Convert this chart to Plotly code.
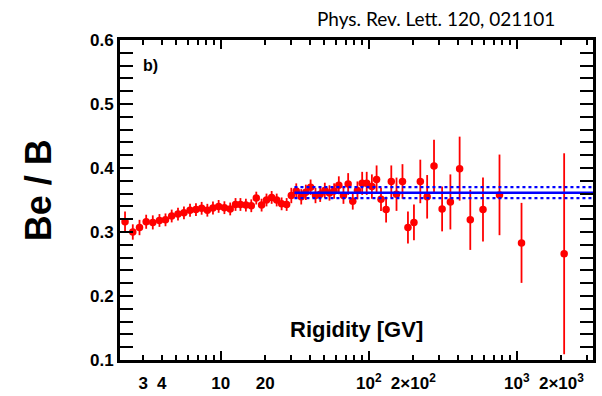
import numpy as np
import plotly.graph_objects as go

rigidity = [2.26, 2.55, 2.83, 3.14, 3.48, 3.86, 4.24, 4.67, 5.15, 5.65,
            6.21, 6.81, 7.44, 8.13, 8.87, 9.69, 10.6, 11.6, 12.6, 13.6,
            14.8, 16.1, 17.4, 18.9, 20.4, 22.1, 23.9, 25.8, 27.9, 30.0,
            32.4, 35.0, 37.6, 40.5, 43.7, 47.0, 50.5, 54.3, 58.4, 62.8,
            67.5, 72.6, 78.0, 83.9, 90.3, 96.9, 105, 113, 121, 131,
            142, 154, 169, 184, 202, 223, 248, 276, 313, 356,
            411, 485, 591, 764, 1076, 2088]
ratio = [0.316, 0.300, 0.307, 0.316, 0.315, 0.318, 0.319, 0.325, 0.328, 0.330,
         0.334, 0.335, 0.337, 0.334, 0.3375, 0.340, 0.338, 0.336, 0.343, 0.343,
         0.342, 0.341, 0.353, 0.342, 0.350, 0.354, 0.350, 0.344, 0.343, 0.357,
         0.364, 0.355, 0.362, 0.370, 0.357, 0.359, 0.365, 0.361, 0.364, 0.373,
         0.357, 0.375, 0.348, 0.365, 0.376, 0.376, 0.371, 0.382, 0.351, 0.335,
         0.379, 0.359, 0.379, 0.307, 0.315, 0.379, 0.355, 0.403, 0.336, 0.347,
         0.399, 0.319, 0.335, 0.358, 0.283, 0.266]
error = [0.016, 0.012, 0.012, 0.011, 0.011, 0.010, 0.010, 0.010, 0.010, 0.010,
         0.010, 0.010, 0.010, 0.010, 0.010, 0.010, 0.010, 0.010, 0.010, 0.010,
         0.010, 0.010, 0.010, 0.010, 0.010, 0.010, 0.010, 0.010, 0.010, 0.012,
         0.012, 0.012, 0.012, 0.012, 0.012, 0.012, 0.012, 0.012, 0.012, 0.014,
         0.013, 0.017, 0.013, 0.014, 0.018, 0.018, 0.019, 0.022, 0.018, 0.020,
         0.025, 0.026, 0.027, 0.025, 0.028, 0.034, 0.034, 0.041, 0.035, 0.043,
         0.050, 0.047, 0.050, 0.063, 0.0625, 0.157]

fit_range = [31.5, 3270]
fit_value = 0.3615
fit_error = 0.0085

x_range = [2.09, 3270]
y_range = [0.1, 0.6]

label_ticks = [3, 4, 10, 20, 100, 200, 1000, 2000]
label_text = ["3", "4", "10", "20", "10<sup>2</sup>", "2\u00d710<sup>2</sup>",
              "10<sup>3</sup>", "2\u00d710<sup>3</sup>"]
decade_ticks = [10, 100, 1000]
minor_ticks = [m * d for d in [1, 10, 100, 1000] for m in range(2, 10)
               if x_range[0] <= m * d <= x_range[1] and m * d not in label_ticks]

FONT = "Liberation Sans"

fig = go.Figure()

fig.add_trace(go.Scatter(
    x=rigidity, y=ratio, mode="markers",
    marker=dict(color="#ff0000", size=7.5),
    error_y=dict(type="data", array=error, color="#ff0000", thickness=1.8, width=0),
    showlegend=False))

fig.add_trace(go.Scatter(x=fit_range, y=[fit_value] * 2, mode="lines",
                         line=dict(color="#0000ff", width=2.5), showlegend=False))
for s in (-1, 1):
    fig.add_trace(go.Scatter(x=fit_range, y=[fit_value + s * fit_error] * 2, mode="lines",
                             line=dict(color="#0000ff", width=2.2, dash="dot"),
                             showlegend=False))

# helper trace for overlay axis with long decade ticks
fig.add_trace(go.Scatter(x=[10], y=[0.5], xaxis="x2", mode="markers",
                         marker=dict(size=0.1, opacity=0), hoverinfo="skip",
                         showlegend=False))

lx = [np.log10(x_range[0]), np.log10(x_range[1])]

fig.update_layout(
    template="none",
    width=602, height=396,
    margin=dict(l=120, r=9, t=40, b=36, autoexpand=False),
    paper_bgcolor="white", plot_bgcolor="white",
    xaxis=dict(type="log", range=lx, showgrid=False, zeroline=False, automargin=False,
               showline=True, linecolor="black", linewidth=3, mirror="allticks",
               ticks="inside", ticklen=5, tickwidth=1.5, tickcolor="black",
               tickmode="array", tickvals=label_ticks, ticktext=label_text,
               ticklabelstandoff=6,
               tickfont=dict(family=FONT, size=17, color="black", weight="bold"),
               minor=dict(tickmode="array", tickvals=minor_ticks, ticks="inside",
                          ticklen=5, tickwidth=1.5, tickcolor="black", showgrid=False)),
    xaxis2=dict(type="log", range=lx, overlaying="x", side="bottom", anchor="y",
                showgrid=False, zeroline=False, showline=False, mirror="allticks",
                automargin=False,
                ticks="inside", ticklen=9, tickwidth=1.5, tickcolor="black",
                tickmode="array", tickvals=decade_ticks, showticklabels=False),
    yaxis=dict(range=y_range, showgrid=False, zeroline=False, automargin=False,
               showline=True, linecolor="black", linewidth=3, mirror="allticks",
               ticks="inside", ticklen=13, tickwidth=1.5, tickcolor="black",
               tickmode="linear", tick0=0.1, dtick=0.1, tickformat=".1f",
               tickfont=dict(family=FONT, size=17, color="black", weight="bold"),
               minor=dict(dtick=0.02, tick0=0.1, ticks="inside", ticklen=7,
                          tickwidth=1.5, tickcolor="black", showgrid=False)),
    annotations=[
        dict(text="b)", xref="paper", yref="paper", x=0.0655, y=0.92,
             xanchor="center", yanchor="middle",
             showarrow=False, font=dict(family=FONT, size=16, color="black", weight="bold")),
        dict(text="Rigidity [GV]", xref="paper", yref="paper", x=0.501, y=0.094,
             xanchor="center", yanchor="middle",
             showarrow=False, font=dict(family=FONT, size=22, color="black", weight="bold")),
        dict(text="Be / B", xref="paper", yref="paper", x=-0.173, y=0.531, textangle=-90,
             xanchor="center", yanchor="middle",
             showarrow=False, font=dict(family=FONT, size=36, color="black", weight="bold")),
        dict(text="Phys. Rev. Lett. 120, 021101", xref="paper", yref="paper",
             x=0.9235, y=1.066, xanchor="right", yanchor="middle", showarrow=False,
             font=dict(family="Lato", size=19, color="black")),
    ],
)

fig.write_html("out.html")
